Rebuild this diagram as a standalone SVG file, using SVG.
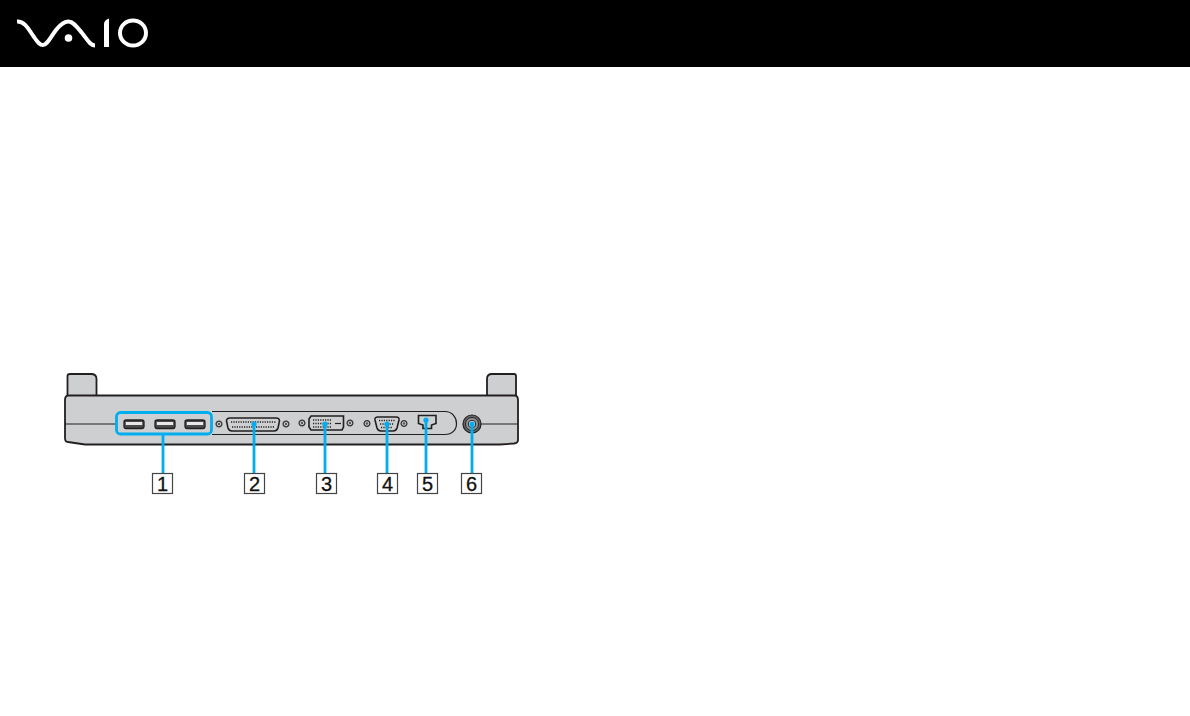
<svg xmlns="http://www.w3.org/2000/svg" width="1190" height="716" viewBox="0 0 1190 716">
<style>
.b{fill:#cdcfd0;stroke:#231f20;stroke-width:1.8}
.l{fill:none;stroke:#231f20;stroke-width:1.2}
.p{fill:#cdcfd0;stroke:#231f20;stroke-width:1.6}
.s{fill:#cdcfd0;stroke:#333;stroke-width:1.3}
.c{fill:none;stroke:#00aeef;stroke-width:2.8}
.k{fill:#fff;stroke:#444;stroke-width:1.2}
.t{font-family:"Liberation Sans",Arial,sans-serif;font-size:20px;fill:#111;text-anchor:middle;stroke:#111;stroke-width:.3}
.d{fill:none;stroke:#231f20;stroke-width:1.300;stroke-dasharray:1.200 1.200}
</style>
<defs>
<g id="screw"><circle r="2.900" class="s"/><circle r="1.200" fill="#555"/></g>
<g id="usb"><rect x="0" y="0" width="20" height="8.500" rx="2.200" fill="#4a4a4a" stroke="#231f20" stroke-width="1.300"/><rect x="1.800" y="2" width="16.400" height="3" fill="#e8e8e8"/></g>
</defs>
<rect width="1190" height="67" fill="#000"/>
<g id="logo" fill="none" stroke="#fff" stroke-width="4">
<path d="M17 21.500C25 21 29 30 34 37C38 43 40 45 43 45C47 45 50 38 56 30C60 25 64 21.500 68.500 21.500C73 21.500 77 27 82 33C87 39 90 45.500 95 45.500"/>
<circle cx="68.500" cy="38" r="3.800" fill="#fff" stroke="none"/>
<path d="M104 24Q104 20 109 18.500V47H104Z" fill="#fff" stroke="none"/>
<ellipse cx="133" cy="33" rx="13" ry="12.500"/>
</g>
<g id="dock">
<path class="b" d="M67.500 396V376Q67.500 374 70 374H91Q96.500 374 96.500 379V396"/>
<path class="b" fill="#cdcfd0" d="M487 396V379Q487 374 492 374H514Q516 374 516 376V396"/>
<path class="b" d="M68 395.500H515Q518 396 518 400V440Q518 443 514 443.500L500 444.500H85L68 442Q65 442 65 438V400Q65 396 68 395.500Z"/>
<path class="l" d="M65 424H116M481 424H518"/>
<path class="l" d="M212 411.500H445C452 411.500 456.500 417 456.500 423.500C456.500 430 452 434.500 445 434.500H212"/>
</g>
<g id="usb-ports">
<use href="#usb" x="124" y="420"/><use href="#usb" x="155" y="420"/><use href="#usb" x="185" y="420"/>
</g>
<g id="parallel-port">
<use href="#screw" x="219" y="424"/><use href="#screw" x="286" y="424"/>
<path class="p" stroke-width="2" d="M230 418H276Q279.500 418 279.500 421L278 428Q277 431 274 431H232Q229 431 228 428L226.500 421Q226.500 418 230 418Z"/>
<path class="d" d="M231 422H276M232 427H274"/>
</g>
<g id="dvi-port">
<use href="#screw" x="302" y="423"/><use href="#screw" x="350" y="423"/>
<path class="p" stroke-width="2" d="M311 416H343.500V427L342 430H311L309 427V419Z"/>
<path class="d" stroke-width="2" d="M313 420H331M313 423.500H331M313 427H331"/>
<path class="l" stroke-width="1.500" d="M335 423.500H341"/>
</g>
<g id="vga-port">
<use href="#screw" x="367" y="423.500"/><use href="#screw" x="404" y="423.500"/>
<path class="p" stroke-width="2" d="M378 417H396Q399.500 417 399 420L397 428Q396 431 393 431H381Q378 431 377 428L375 420Q374.500 417 378 417Z"/>
<path class="d" stroke-width="1.600" d="M379 420.500H395M380 424H394M381 427.500H393"/>
</g>
<g id="lan-port">
<path class="p" fill="#fff" stroke-width="1.600" d="M418.500 415.500H436V423.500L431.500 425V428.500H423V425L418.500 423.500Z"/>
</g>
<g id="power-jack">
<circle cx="472" cy="424" r="9" fill="#666" stroke="#231f20" stroke-width="1.200"/>
<circle cx="472" cy="424" r="6.500" fill="#999" stroke="#231f20"/>
<circle cx="472" cy="424" r="3.800" fill="#ddd" stroke="#231f20"/>
</g>
<g id="connectors">
<rect class="c" x="116.500" y="412.500" width="95" height="21.500" rx="4"/>
<path class="c" d="M163 434V473M254 424V473M325 424V473M387 424V473M426 420V473M472 424V473"/>
<g fill="#00aeef"><circle cx="254" cy="424" r="2.600"/><circle cx="325" cy="424" r="2.600"/><circle cx="387" cy="424" r="2.600"/><circle cx="426" cy="420" r="2.600"/><circle cx="472" cy="424" r="2.600"/></g>
</g>
<g id="label-1"><rect class="k" x="152.500" y="473.500" width="20" height="20"/><text class="t" x="162.500" y="491">1</text></g>
<g id="label-2"><rect class="k" x="244.500" y="473.500" width="20" height="20"/><text class="t" x="254.500" y="491">2</text></g>
<g id="label-3"><rect class="k" x="316.500" y="473.500" width="20" height="20"/><text class="t" x="326.500" y="491">3</text></g>
<g id="label-4"><rect class="k" x="377.500" y="473.500" width="20" height="20"/><text class="t" x="387.500" y="491">4</text></g>
<g id="label-5"><rect class="k" x="417.500" y="473.500" width="20" height="20"/><text class="t" x="427.500" y="491">5</text></g>
<g id="label-6"><rect class="k" x="461.500" y="473.500" width="20" height="20"/><text class="t" x="471.500" y="491">6</text></g>
</svg>
